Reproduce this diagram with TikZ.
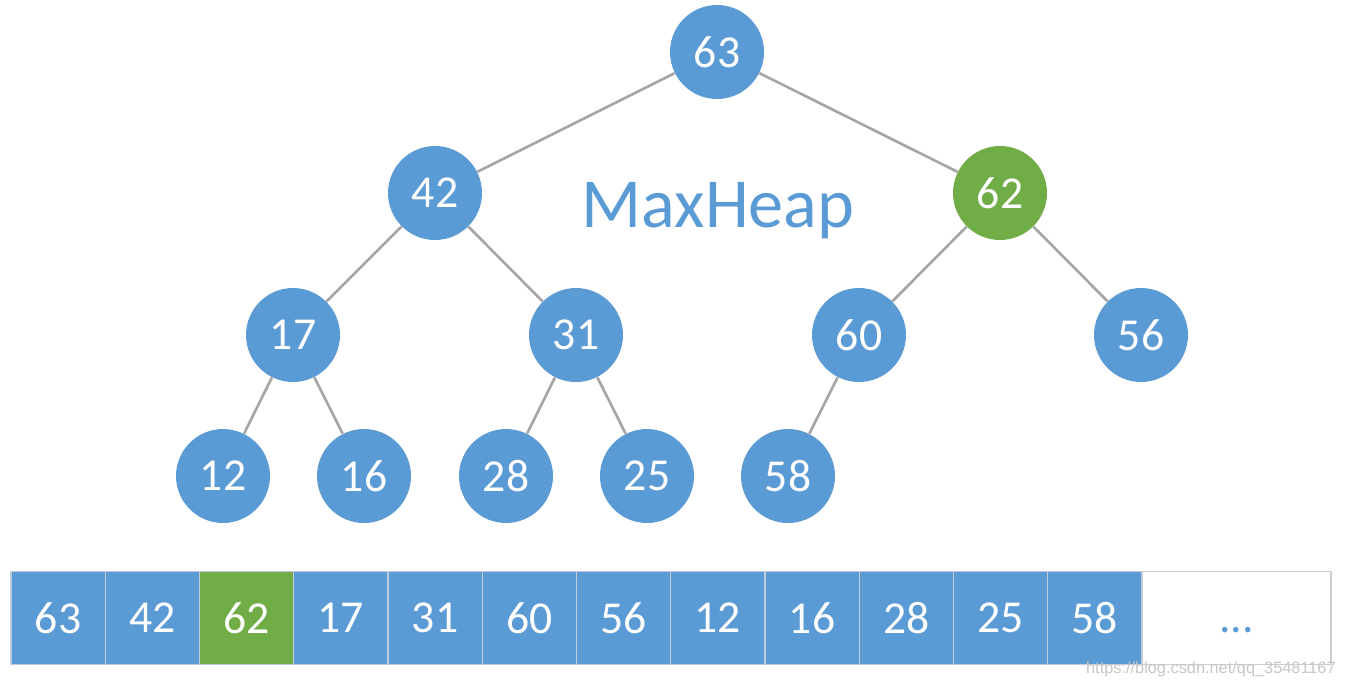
\documentclass[tikz,border=0pt]{standalone}
\usepackage{fontspec}
\setmainfont{Carlito}
\newfontfamily\markfont{Liberation Sans}
\usepackage{xcolor}
\usetikzlibrary{positioning}
\definecolor{heapblue}{RGB}{91,155,213}
\definecolor{heapgreen}{RGB}{112,173,71}
\definecolor{edgegray}{RGB}{166,166,166}
\definecolor{cellline}{RGB}{190,204,222}
\definecolor{boxline}{RGB}{205,205,205}

\begin{document}
\begin{tikzpicture}[x=0.02cm, y=-0.02cm,
  heapnode/.style={circle, fill=heapblue, text=white, inner sep=0pt,
    minimum size=1.88cm, font=\fontsize{26}{30}\selectfont},
  maxnode/.style={heapnode, fill=heapgreen},
  cell/.style={rectangle, draw=cellline, line width=0.6pt, text=white, inner sep=0pt,
    minimum width=1.885cm, minimum height=1.86cm, font=\fontsize{26}{30}\selectfont},
  edge/.style={draw=edgegray, line width=1.5pt}]
  \useasboundingbox (0,0) rectangle (1345,687);

  % tree
  \node[heapnode] (n63) at (717,52) {63};
  \node[heapnode] (n42) at (435,193) {42};
  \node[maxnode]  (n62) at (1000,193) {62};
  \node[heapnode] (n17) at (293,335) {17};
  \node[heapnode] (n31) at (576,335) {31};
  \node[heapnode] (n60) at (859,335) {60};
  \node[heapnode] (n56) at (1141,335) {56};
  \node[heapnode] (n12) at (223,476) {12};
  \node[heapnode] (n16) at (364,476) {16};
  \node[heapnode] (n28) at (506,476) {28};
  \node[heapnode] (n25) at (647,476) {25};
  \node[heapnode] (n58) at (788,476) {58};

  \draw[edge] (n63) -- (n42);
  \draw[edge] (n63) -- (n62);
  \draw[edge] (n42) -- (n17);
  \draw[edge] (n42) -- (n31);
  \draw[edge] (n62) -- (n60);
  \draw[edge] (n62) -- (n56);
  \draw[edge] (n17) -- (n12);
  \draw[edge] (n17) -- (n16);
  \draw[edge] (n31) -- (n28);
  \draw[edge] (n31) -- (n25);
  \draw[edge] (n60) -- (n58);

  \node[heapblue, anchor=base, font=\fontsize{40}{46}\selectfont] (title) at (718,227) {MaxHeap};

  % array
  \foreach \v/\c [count=\i from 0] in {63/heapblue, 42/heapblue, 62/heapgreen, 17/heapblue,
      31/heapblue, 60/heapblue, 56/heapblue, 12/heapblue, 16/heapblue, 28/heapblue,
      25/heapblue, 58/heapblue}
    \node[cell, fill=\c] (a\i) at ({11+94.25*(\i+0.5)},618) {\v};
  \node[cell, draw=boxline, fill=white, text=heapblue, minimum width=3.78cm]
    (rest) at (1236.5,618) {\vphantom{0}...};

  \node[anchor=base east, text=black!22, inner sep=0pt, font=\markfont\fontsize{9.3}{11}\selectfont]
    (mark) at (1336,673) {https://blog.csdn.net/qq\_35481167};
\end{tikzpicture}
\end{document}
